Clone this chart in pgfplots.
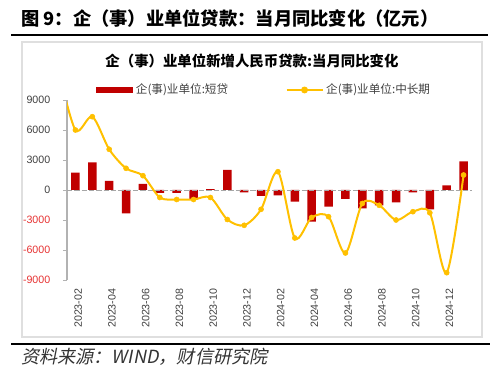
\documentclass[border=0pt]{standalone}
\usepackage{pgfplots}
\pgfplotsset{compat=1.18}
\usepackage{fontspec}
\setmainfont{Liberation Sans}
\newfontfamily\cjk{Noto Sans CJK SC}
\newfontfamily\cjkit{Noto Sans CJK SC}[FakeSlant=0.2]
\definecolor{barred}{RGB}{192,0,0}
\definecolor{lineyel}{RGB}{255,192,0}
\definecolor{negred}{RGB}{230,50,50}
\definecolor{ticktxt}{RGB}{64,64,64}
\pgfplotstableread{
x short
0 1730
1 2770
2 900
3 -2330
4 600
5 -300
6 -300
7 -950
8 80
9 2000
10 -250
11 -600
12 -550
13 -1170
14 -3170
15 -1670
16 -900
17 -1830
18 -1550
19 -1230
20 -250
21 -1950
22 470
23 2860
}\shortdata
\pgfplotstableread{
x mid
-1 12000
0 6000
1 7330
2 4070
3 2170
4 1430
5 -750
6 -950
7 -950
8 -750
9 -2950
10 -3530
11 -1930
12 1830
13 -4800
14 -2750
15 -2670
16 -6300
17 -1350
18 -1530
19 -3000
20 -2170
21 -2280
22 -8270
23 1500
}\middata
\begin{document}
\begin{tikzpicture}[x=0.75pt,y=0.75pt]
\path (0,0) rectangle (500,381);
\node[anchor=west, inner sep=0pt, font=\cjk\bfseries\fontsize{13.7}{16}\selectfont] at (21,363) {图 9：企（事）业单位贷款：当月同比变化（亿元）};
\draw[line width=1.6pt] (11,346) -- (488,346);
\draw[gray!25, line width=0.8pt] (22,339) rectangle (482,44);
\node[inner sep=0pt, font=\cjk\bfseries\fontsize{10.8}{13}\selectfont] at (252,320) {企（事）业单位新增人民币贷款:当月同比变化};
\draw[line width=1.6pt] (11,37) -- (490,37);
\node[anchor=west, inner sep=0pt, font=\cjkit\fontsize{13.6}{16}\selectfont, text=black!80] at (21,24) {资料来源：WIND，财信研究院};
\begin{axis}[
  at={(50.25pt,75.75pt)}, anchor=south west,
  scale only axis, width=303.75pt, height=135pt,
  xmin=-0.5, xmax=23.5, ymin=-9000, ymax=9000,
  axis lines*=left,
  x axis line style={draw=none},
  y axis line style={draw=gray!60, line width=0.8pt},
  xtick={0,2,...,22},
  xticklabels={2023-02,2023-04,2023-06,2023-08,2023-10,2023-12,2024-02,2024-04,2024-06,2024-08,2024-10,2024-12},
  xtick style={draw=none},
  xticklabel style={rotate=90, anchor=east, yshift=-2pt, font=\fontsize{8}{10}\selectfont, text=ticktxt},
  ytick={-9000,-6000,-3000,0,3000,6000,9000},
  yticklabels={{\textcolor{negred}{-9000}},{\textcolor{negred}{-6000}},{\textcolor{negred}{-3000}},0,3000,6000,9000},
  yticklabel style={xshift=-6pt, font=\fontsize{8}{10}\selectfont, text=ticktxt},
  ytick style={draw=gray!60},
  tick align=outside, major tick length=3pt,
  legend style={at={(0.0716,1.0556)}, anchor=west, draw=none, fill=none,
    font=\cjk\fontsize{8.7}{10}\selectfont, text=ticktxt, inner sep=0pt,
    /tikz/every even column/.append style={column sep=41pt}},
  legend columns=2,
]
\addplot[ybar, bar width=6.4pt, fill=barred, draw=none,
  legend image code/.code={\fill[barred] (0pt,-2.5pt) rectangle (27.75pt,2.5pt);}]
  table[x=x, y=short] {\shortdata};
\addlegendentry{企(事)业单位:短贷}
\addplot[forget plot, gray!70, line width=0.7pt, dash pattern=on 4pt off 1.5pt] coordinates {(-0.5,0) (23.5,0)};
\addplot[lineyel, line width=1.5pt, smooth, tension=0.5, no markers,
  legend image code/.code={\draw[lineyel, line width=1.5pt] (0pt,0pt) -- (27pt,0pt); \fill[lineyel] (13.5pt,0pt) circle (1.8pt);}]
  table[x=x, y=mid] {\middata};
\addlegendentry{企(事)业单位:中长期}
\addplot[forget plot, only marks, mark=*, mark size=1.9pt, lineyel, restrict x to domain=-0.2:24]
  table[x=x, y=mid] {\middata};
\end{axis}
\end{tikzpicture}
\end{document}
